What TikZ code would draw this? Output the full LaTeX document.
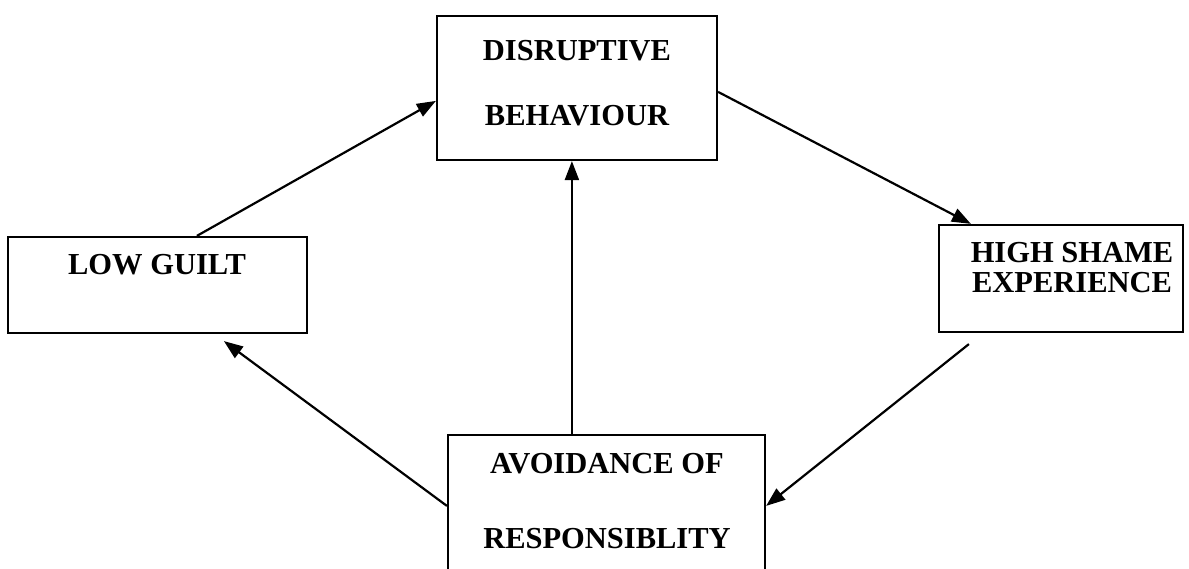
\documentclass[tikz,border=0pt]{standalone}
\usepackage{fontspec}
\setmainfont{Liberation Serif}
\usetikzlibrary{calc,arrows.meta}
\begin{document}
\begin{tikzpicture}[x=1pt,y=-1pt,
  box/.style={draw,line width=2.2pt,rectangle,inner sep=0pt},
  lbl/.style={anchor=base,inner sep=0pt,font=\fontsize{30.5}{36}\selectfont\bfseries},
  arr/.style={line width=2.2pt,-{Triangle[length=19pt,width=14pt]}}]
\useasboundingbox (0,0) rectangle (1189,569);
% boxes
\node[box,minimum width=280pt,minimum height=144pt] (dis) at (577,88) {};
\node[box,minimum width=299pt,minimum height=96pt] (low) at (157.5,285) {};
\node[box,minimum width=244pt,minimum height=107pt] (high) at (1061,278.5) {};
\node[box,minimum width=317pt,minimum height=160pt] (avo) at (606.5,515) {};
% labels
\node[lbl] (t1) at (577,61) {DISRUPTIVE};
\node[lbl] (t2) at (577,126) {BEHAVIOUR};
\node[lbl] (t3) at (157,275) {LOW GUILT};
\node[lbl] (t4) at (1072,263) {HIGH SHAME};
\node[lbl] (t5) at (1072,293) {EXPERIENCE};
\node[lbl] (t6) at (607,473) {AVOIDANCE OF};
\node[lbl] (t7) at (607,548) {RESPONSIBLITY};
% arrows
\draw[arr] ($(low.north west)+(190,0)$) -- ($(dis.north west)+(0,86)$);
\draw[arr] ($(dis.north east)+(0,77)$) -- ($(high.north west)+(33,0)$);
\draw[arr] ($(high.south west)+(31,11)$) -- ($(avo.north east)+(0,72)$);
\draw[arr] ($(avo.north west)+(0,72)$) -- ($(low.south west)+(217,7)$);
\draw[arr] ($(avo.north west)+(125,0)$) -- ($(dis.south west)+(136,0)$);
\end{tikzpicture}
\end{document}
